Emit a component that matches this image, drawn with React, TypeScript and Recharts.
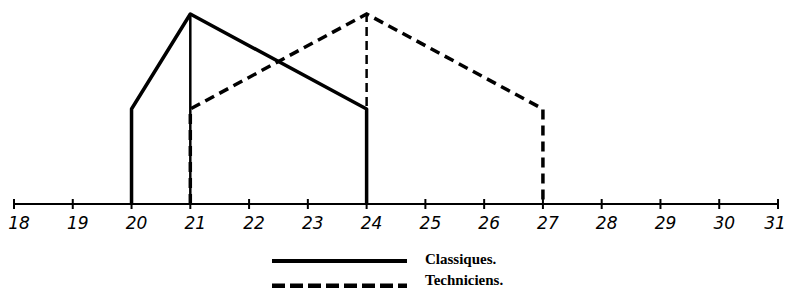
import { Line, LineChart, XAxis, YAxis } from "recharts";

const ages = [18, 19, 20, 21, 22, 23, 24, 25, 26, 27, 28, 29, 30, 31];

const classiquesAge = [20, 20, 21, 24, 24];
const classiquesValue = [0, 1, 2, 1, 0];
const classiquesDividerAge = [21, 21];
const classiquesDividerValue = [0, 2];

const techniciensAge = [21, 21, 24, 27, 27];
const techniciensValue = [0, 1, 2, 1, 0];
const techniciensDividerAge = [24, 24];
const techniciensDividerValue = [0, 2];

const seriesNames = ["Classiques.", "Techniciens."];

function zip(xs: number[], vs: number[]) {
  return xs.map((x, i) => ({ age: x, v: vs[i] }));
}

const classiques = zip(classiquesAge, classiquesValue);
const classiquesDivider = zip(classiquesDividerAge, classiquesDividerValue);
const techniciens = zip(techniciensAge, techniciensValue);
const techniciensDivider = zip(techniciensDividerAge, techniciensDividerValue);

function AgeTick({ x, y, payload }: { x?: number; y?: number; payload?: { value: number } }) {
  const cx = Number(x ?? 0);
  const cy = Number(y ?? 0);
  // keep the last label inside the frame
  const tx = Math.min(cx + 5, 775);
  return (
    <g>
      <line x1={cx} x2={cx} y1={cy - 5} y2={cy + 5} stroke="#000" strokeWidth={2} />
      <text
        x={tx}
        y={cy + 25}
        textAnchor="middle"
        fontFamily="DejaVu Sans"
        fontStyle="italic"
        fontSize={17}
        fill="#000"
      >
        {payload?.value}
      </text>
    </g>
  );
}

function LegendBlock() {
  return (
    <svg width={786} height={288} style={{ position: "absolute", left: 0, top: 0, pointerEvents: "none" }}>
      <line x1={272} x2={407} y1={261} y2={261} stroke="#000" strokeWidth={4} />
      <line x1={272} x2={407} y1={286} y2={286} stroke="#000" strokeWidth={5} strokeDasharray="13 5" />
      <text x={425} y={264} fontFamily="Liberation Serif" fontWeight="bold" fontSize={15} fill="#000">
        {seriesNames[0]}
      </text>
      <text x={425} y={285} fontFamily="Liberation Serif" fontWeight="bold" fontSize={15} fill="#000">
        {seriesNames[1]}
      </text>
    </svg>
  );
}

export default function App() {
  return (
    <div style={{ position: "absolute", left: 0, top: 0, width: 786, height: 288, background: "#fff" }}>
      <LineChart width={786} height={288} margin={{ top: 14, right: 8, bottom: 0, left: 14 }}>
        <XAxis
          dataKey="age"
          type="number"
          domain={[18, 31]}
          ticks={ages}
          interval={0}
          height={84}
          tickSize={0}
          tickMargin={0}
          tickLine={false}
          axisLine={{ stroke: "#000", strokeWidth: 2 }}
          tick={<AgeTick />}
          allowDuplicatedCategory={false}
        />
        <YAxis hide type="number" domain={[0, 2]} />
        <Line
          data={classiques}
          dataKey="v"
          stroke="#000"
          strokeWidth={3.5}
          dot={false}
          type="linear"
          isAnimationActive={false}
          strokeLinejoin="round"
        />
        <Line
          data={classiquesDivider}
          dataKey="v"
          stroke="#000"
          strokeWidth={2.5}
          dot={false}
          type="linear"
          isAnimationActive={false}
        />
        <Line
          data={techniciens}
          dataKey="v"
          stroke="#000"
          strokeWidth={3.5}
          strokeDasharray="10 6"
          dot={false}
          type="linear"
          isAnimationActive={false}
        />
        <Line
          data={techniciensDivider}
          dataKey="v"
          stroke="#000"
          strokeWidth={2.5}
          strokeDasharray="9 5"
          dot={false}
          type="linear"
          isAnimationActive={false}
        />
      </LineChart>
      <LegendBlock />
    </div>
  );
}
